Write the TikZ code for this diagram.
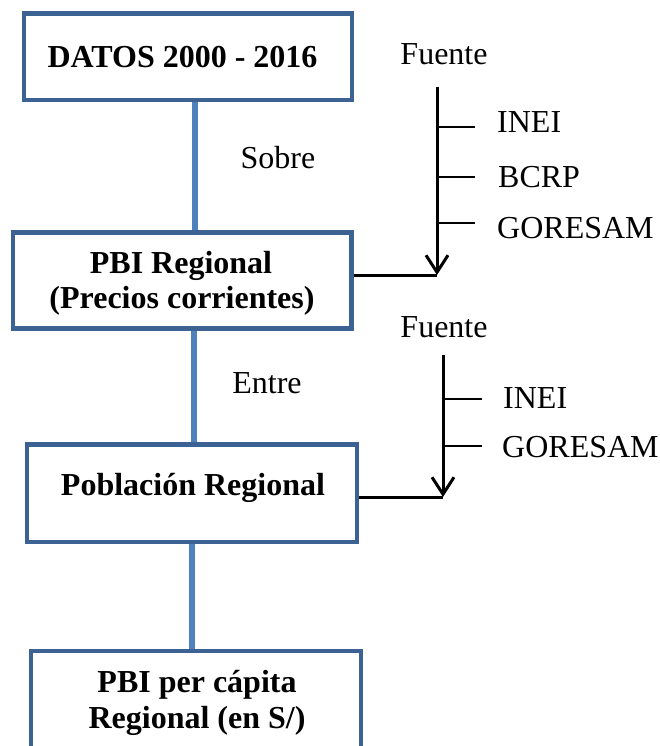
\documentclass[tikz,border=0pt]{standalone}
\usepackage{fontspec}
\setmainfont{Liberation Serif}
\usetikzlibrary{arrows.meta,backgrounds}
\definecolor{boxblue}{RGB}{60,98,148}
\definecolor{linkblue}{RGB}{79,129,189}
\begin{document}
\begin{tikzpicture}[x=1pt,y=-1pt,
  boxnode/.style={draw=boxblue,line width=4.5pt,fill=white,rectangle,inner sep=0pt},
  link/.style={draw=linkblue,line width=5.5pt},
  txt/.style={inner sep=0pt,font=\fontsize{32}{38}\selectfont},
  btxt/.style={inner sep=0pt,font=\fontsize{32}{38}\selectfont\bfseries},
  srcarrow/.style={line width=3pt,-{Straight Barb[length=17pt,width=22pt,line width=3pt]}},
  feed/.style={line width=3pt},
  tick/.style={line width=2pt}]
\useasboundingbox (0,0) rectangle (660,746);
\clip (0,0) rectangle (660,746);
% boxes
\node[boxnode,minimum width=328pt,minimum height=86.5pt] (b1) at (188,57) {};
\node[boxnode,minimum width=338.5pt,minimum height=96pt] (b2) at (182,280.5) {};
\node[boxnode,minimum width=330pt,minimum height=97.5pt] (b3) at (192,493) {};
\node[boxnode,minimum width=330pt,minimum height=150pt] (b4) at (196,726) {};
% connectors between boxes (behind the boxes)
\begin{scope}[on background layer]
\draw[link] ([xshift=7pt]b1.south) -- ([xshift=13pt]b2.north);
\draw[link] ([xshift=12pt]b2.south) -- ([xshift=2pt]b3.north);
\draw[link] ([xshift=0pt]b3.south) -- ([xshift=-4pt]b4.north);
\end{scope}
% box texts
\node[btxt,anchor=base] (t1) at (182.5,68) {DATOS 2000 - 2016};
\node[btxt,anchor=base] (t2a) at (181,273) {PBI Regional};
\node[btxt,anchor=base] (t2b) at (182,308) {(Precios corrientes)};
\node[btxt,anchor=base] (t3) at (193,495) {Población Regional};
\node[btxt,anchor=base] (t4a) at (197,692) {PBI per cápita};
\node[btxt,anchor=base] (t4b) at (197,728) {Regional (en S/)};
% link labels
\node[txt,anchor=base] (sobre) at (278,168) {Sobre};
\node[txt,anchor=base] (entre) at (267,393) {Entre};
% source group 1
\node[txt,anchor=base] (f1) at (444,65) {Fuente};
\coordinate (a1s) at (437,87);
\coordinate (a1e) at (437,275);
\draw[srcarrow] (a1s) -- (a1e);
\draw[feed] (b2.east |- a1e) -- (a1e);
\node[txt,anchor=base west] (s11) at (497,133) {INEI};
\node[txt,anchor=base west] (s12) at (498,187) {BCRP};
\node[txt,anchor=base west] (s13) at (497,238) {GORESAM};
\coordinate (k11) at (437,127);
\coordinate (k12) at (437,177);
\coordinate (k13) at (437,223);
\draw[tick] (k11) -- ++(38,0);
\draw[tick] (k12) -- ++(38,0);
\draw[tick] (k13) -- ++(38,0);
% source group 2
\node[txt,anchor=base] (f2) at (444,337) {Fuente};
\coordinate (a2s) at (443,355);
\coordinate (a2e) at (443,497);
\draw[srcarrow] (a2s) -- (a2e);
\draw[feed] (b3.east |- a2e) -- (a2e);
\node[txt,anchor=base west] (s21) at (503,408) {INEI};
\node[txt,anchor=base west] (s22) at (502,457) {GORESAM};
\coordinate (k21) at (443,399);
\coordinate (k22) at (443,446);
\draw[tick] (k21) -- ++(39,0);
\draw[tick] (k22) -- ++(39,0);
\end{tikzpicture}
\end{document}
